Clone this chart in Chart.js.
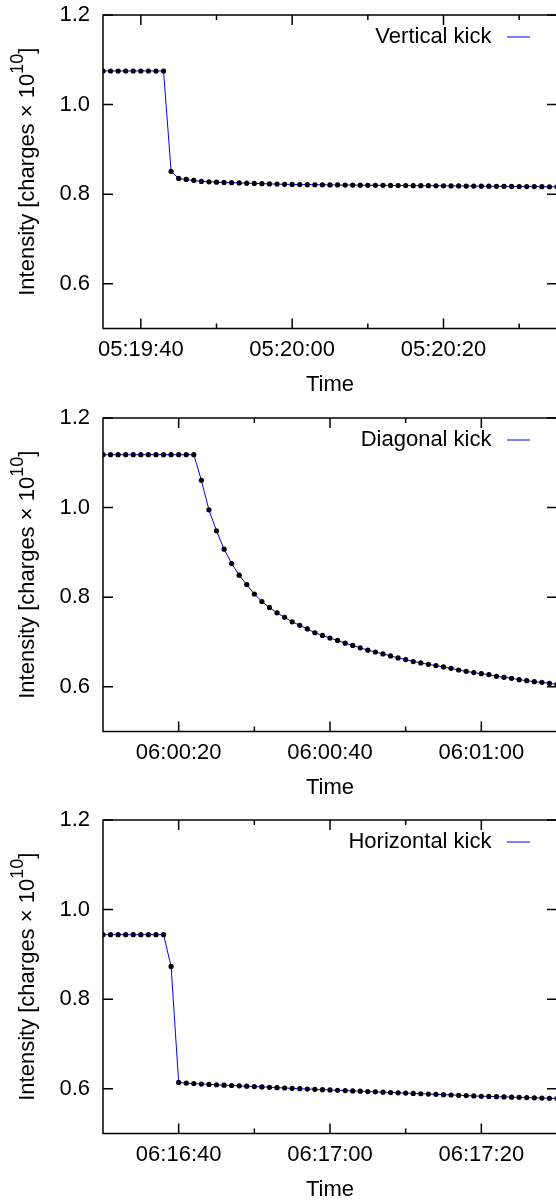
<!DOCTYPE html>
<html>
<head>
<meta charset="utf-8">
<script src="https://cdn.jsdelivr.net/npm/chart.js@4.4.1/dist/chart.umd.min.js"></script>
<style>
  html, body { margin: 0; padding: 0; background: #fff; }
  #wrap { position: relative; width: 556px; height: 1201px; overflow: hidden; background: #fff; }
  canvas { position: absolute; left: 0; }
</style>
</head>
<body>
<div id="wrap">
  <canvas id="c1" width="557" height="400" style="top:0px"></canvas>
  <canvas id="c2" width="557" height="400" style="top:403px"></canvas>
  <canvas id="c3" width="557" height="400" style="top:805px"></canvas>
</div>
<script>
// ---------- data ----------
const yTickLabels = ["0.6", "0.8", "1.0", "1.2"];
const yMin = 0.5;
const yMax = 1.2;
const xTitle = "Time";
const yTitleMain = "Intensity [charges \u00d7 10";
const yTitleSup = "10";
const yTitleEnd = "]";

const verticalLabel = "Vertical kick";
const verticalStart = "05:19:35";
const verticalEnd = "05:20:35";
const verticalTicks = ["05:19:40", "05:20:00", "05:20:20"];
const verticalValues = [
  1.075, 1.075, 1.075, 1.075, 1.075, 1.075, 1.075, 1.075, 1.075,
  0.851, 0.835, 0.8328, 0.8306, 0.8285, 0.8276, 0.8268, 0.8262, 0.8256, 0.825,
  0.8244, 0.8239, 0.8234, 0.8229, 0.8224, 0.822,
  0.8216, 0.8214, 0.8212, 0.821, 0.8208, 0.8206, 0.8205, 0.8203, 0.8202, 0.82,
  0.8199, 0.8197, 0.8196, 0.8194, 0.8193, 0.8192, 0.819, 0.8189, 0.8188, 0.8187,
  0.8186, 0.8184, 0.8183, 0.8181, 0.818, 0.8178, 0.8177, 0.8175, 0.8174, 0.8172,
  0.8171, 0.8169, 0.8168, 0.8166, 0.8165, 0.8163
];

const diagonalLabel = "Diagonal kick";
const diagonalStart = "06:00:10";
const diagonalEnd = "06:01:10";
const diagonalTicks = ["06:00:20", "06:00:40", "06:01:00"];
const diagonalValues = [
  1.118, 1.118, 1.118, 1.118, 1.118, 1.118, 1.118, 1.118, 1.118, 1.118, 1.118, 1.118, 1.118,
  1.061, 0.995, 0.948, 0.907, 0.875, 0.849, 0.828, 0.807, 0.790, 0.777,
  0.765, 0.755, 0.745, 0.737, 0.729, 0.7205, 0.7146, 0.7085, 0.7034, 0.6973,
  0.6922, 0.6868, 0.6816,
  0.6775, 0.6733, 0.6688, 0.6643, 0.6607, 0.6562, 0.6531, 0.6501, 0.6472, 0.6441,
  0.6411, 0.6373, 0.6344, 0.6315, 0.6292, 0.6270, 0.6232, 0.6209, 0.6187, 0.6157,
  0.6135, 0.6112, 0.6097, 0.6074, 0.6052
];

const horizontalLabel = "Horizontal kick";
const horizontalStart = "06:16:30";
const horizontalEnd = "06:17:30";
const horizontalTicks = ["06:16:40", "06:17:00", "06:17:20"];
const horizontalValues = [
  0.944, 0.944, 0.944, 0.944, 0.944, 0.944, 0.944, 0.944, 0.944,
  0.873,
  0.614, 0.6125, 0.6114, 0.6104, 0.6096, 0.6088, 0.6080, 0.6072, 0.6064, 0.6056,
  0.6048, 0.6040, 0.6032, 0.6024, 0.6016, 0.6008, 0.6000, 0.5993, 0.5986, 0.5979,
  0.5972, 0.5965, 0.5958, 0.5951, 0.5944, 0.5937, 0.5930, 0.5923, 0.5916, 0.5909,
  0.5902, 0.5895, 0.5888, 0.5881, 0.5874, 0.5867, 0.5860, 0.5853, 0.5846, 0.5839,
  0.5832, 0.5827, 0.5822, 0.5817, 0.5812, 0.5807, 0.5802, 0.5797, 0.5792, 0.5787,
  0.5782
];

// ---------- helpers ----------
function toSec(s) { const p = s.split(":").map(Number); return p[0] * 3600 + p[1] * 60 + p[2]; }
function fmt(sec) {
  const h = Math.floor(sec / 3600), m = Math.floor((sec % 3600) / 60), s = sec % 60;
  const z = n => String(n).padStart(2, "0");
  return z(h) + ":" + z(m) + ":" + z(s);
}

const FONT = '"Liberation Sans", Arial, Helvetica, sans-serif';
Chart.defaults.font.family = FONT;
Chart.defaults.font.size = 22;
Chart.defaults.color = "#000";

const framePlugin = {
  id: "frame",
  afterDatasetsDraw(chart) {
    const { ctx, chartArea: a, scales: { x, y } } = chart;
    ctx.save();
    ctx.strokeStyle = "#000";
    ctx.lineWidth = 1.5;
    ctx.beginPath();
    y.ticks.forEach(t => {
      const py = y.getPixelForValue(t.value);
      ctx.moveTo(a.left, py); ctx.lineTo(a.left + 10, py);
      ctx.moveTo(a.right, py); ctx.lineTo(a.right - 10, py);
    });
    x.ticks.forEach(t => {
      const px = x.getPixelForValue(t.value);
      const len = t.label ? 10 : 5;
      ctx.moveTo(px, a.bottom); ctx.lineTo(px, a.bottom - len);
      ctx.moveTo(px, a.top); ctx.lineTo(px, a.top + len);
    });
    ctx.stroke();
    ctx.strokeRect(a.left, a.top, a.right - a.left, a.bottom - a.top);

    // key (legend) inside plot, gnuplot style: text then line sample
    const ds = chart.data.datasets[0];
    const ky = a.top + 22;
    ctx.font = "22px " + FONT;
    ctx.fillStyle = "#000";
    ctx.textAlign = "right";
    ctx.textBaseline = "middle";
    ctx.fillText(ds.label, a.right - 65.5, ky);
    ctx.beginPath();
    ctx.strokeStyle = ds.borderColor;
    ctx.lineWidth = 1;
    ctx.moveTo(a.right - 50, ky);
    ctx.lineTo(a.right - 27, ky);
    ctx.stroke();

    // y-axis title with superscript
    const cy = (a.top + a.bottom) / 2;
    ctx.translate(34, cy);
    ctx.rotate(-Math.PI / 2);
    ctx.textAlign = "left";
    ctx.textBaseline = "alphabetic";
    const mainFont = "22px " + FONT, supFont = "18px " + FONT;
    ctx.font = mainFont; const w1 = ctx.measureText(yTitleMain).width; const w3 = ctx.measureText(yTitleEnd).width;
    ctx.font = supFont; const w2 = ctx.measureText(yTitleSup).width;
    let sx = -(w1 + w2 + w3) / 2;
    ctx.font = mainFont; ctx.fillText(yTitleMain, sx, 0); sx += w1;
    ctx.font = supFont; ctx.fillText(yTitleSup, sx, -11); sx += w2;
    ctx.font = mainFont; ctx.fillText(yTitleEnd, sx, 0);
    ctx.restore();
  }
};

function makeChart(id, label, start, end, tickLabels, values) {
  const t0 = toSec(start), t1 = toSec(end);
  const pts = values.map((v, i) => ({ x: t0 + i, y: v }));
  const majors = tickLabels.map(toSec);
  const yTicks = yTickLabels.map(Number);
  return new Chart(document.getElementById(id), {
    type: "line",
    data: {
      datasets: [{
        label: label,
        data: pts,
        borderColor: "#0000ff",
        borderWidth: 1,
        pointRadius: 2.6,
        pointHoverRadius: 2.6,
        pointBackgroundColor: "#000",
        pointBorderWidth: 0,
        tension: 0,
        fill: false
      }]
    },
    options: {
      responsive: false,
      animation: false,
      events: [],
      layout: { autoPadding: false, padding: { top: 15, left: 0, right: 0, bottom: 0 } },
      plugins: { legend: { display: false }, tooltip: { enabled: false } },
      scales: {
        x: {
          type: "linear",
          min: t0, max: t1,
          grid: { display: false, drawTicks: false },
          border: { display: false },
          afterBuildTicks: s => {
            const arr = [];
            for (let v = Math.ceil(t0 / 10) * 10; v < t1; v += 10) if (v > t0) arr.push({ value: v });
            s.ticks = arr;
          },
          afterFit: s => { s.height = 400 - 15 - 313.5; s.paddingLeft = 0; s.paddingRight = 0; },
          ticks: {
            autoSkip: false, maxRotation: 0, minRotation: 0, padding: 8,
            callback: v => (majors.includes(v) ? fmt(v) : "")
          },
          title: { display: true, text: xTitle, padding: { top: 0, bottom: 2 } }
        },
        y: {
          min: yMin, max: yMax,
          grid: { display: false, drawTicks: false },
          border: { display: false },
          afterBuildTicks: s => { s.ticks = yTicks.map(v => ({ value: v })); },
          afterFit: s => { s.width = 103; s.paddingTop = 0; s.paddingBottom = 0; },
          ticks: { padding: 13, callback: v => v.toFixed(1) }
        }
      }
    },
    plugins: [framePlugin]
  });
}

makeChart("c1", verticalLabel, verticalStart, verticalEnd, verticalTicks, verticalValues);
makeChart("c2", diagonalLabel, diagonalStart, diagonalEnd, diagonalTicks, diagonalValues);
makeChart("c3", horizontalLabel, horizontalStart, horizontalEnd, horizontalTicks, horizontalValues);
</script>
</body>
</html>
